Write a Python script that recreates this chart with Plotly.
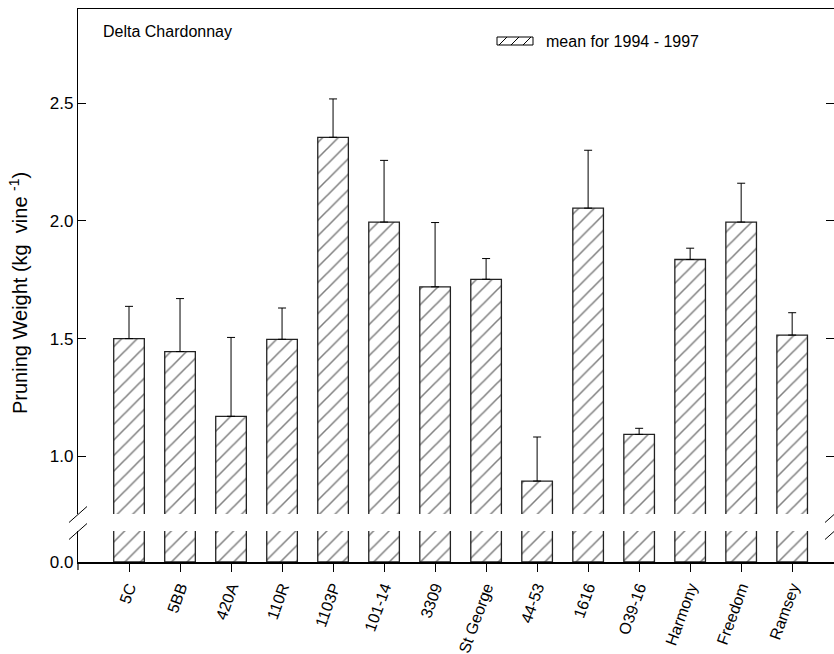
import plotly.graph_objects as go

# Rootstock trial data: mean pruning weight and upper error limit (kg vine^-1)
rootstocks = ["5C", "5BB", "420A", "110R", "1103P", "101-14", "3309", "St George",
              "44-53", "1616", "O39-16", "Harmony", "Freedom", "Ramsey"]
mean_weight = [1.50, 1.445, 1.17, 1.497, 2.355, 1.995, 1.72, 1.752,
               0.895, 2.054, 1.093, 1.836, 1.995, 1.515]
upper_limit = [1.637, 1.67, 1.505, 1.63, 2.518, 2.257, 1.993, 1.84,
               1.082, 2.30, 1.119, 1.884, 2.16, 1.61]
y_ticks_upper = [1.0, 1.5, 2.0, 2.5]
y_ticks_lower = [0.0]
legend_label = "mean for 1994 - 1997"
panel_label = "Delta Chardonnay"

err_plus = [u - m for u, m in zip(upper_limit, mean_weight)]

W, H = 834, 654
ML, MR, MT, MB = 78, 0, 9, 92
PW, PH = W - ML - MR, H - MT - MB

def px_x(p):
    return (p - ML) / PW

def px_y(p):
    return (H - MB - p) / PH

FONT = "Liberation Sans, Arial, sans-serif"
hatch = dict(shape="/", fgcolor="black", bgcolor="white", size=11, solidity=0.14)
bar_line = dict(color="#222222", width=1.3)

fig = go.Figure()

# lower segment of the broken axis
fig.add_trace(go.Bar(x=rootstocks, y=mean_weight, xaxis="x", yaxis="y",
                     width=0.6, marker=dict(color="white", line=bar_line, pattern=hatch),
                     showlegend=False, hoverinfo="skip"))
# upper segment with error bars
fig.add_trace(go.Bar(x=rootstocks, y=mean_weight, xaxis="x2", yaxis="y2",
                     width=0.6, marker=dict(color="white", line=bar_line, pattern=hatch),
                     error_y=dict(type="data", symmetric=False, array=err_plus,
                                  arrayminus=[0] * len(err_plus),
                                  color="black", thickness=1, width=4),
                     showlegend=False, name=legend_label))

lower_dom = [0, px_y(531)]
upper_dom = [px_y(514), 1]

axis_font = dict(family=FONT, size=17, color="black")

fig.update_layout(
    width=W, height=H,
    margin=dict(l=ML, r=MR, t=MT, b=MB),
    paper_bgcolor="white", plot_bgcolor="white",
    font=dict(family=FONT, color="black"),
    xaxis=dict(domain=[0, 1], anchor="y", type="category", range=[-1, 13.82],
               showline=True, linecolor="black", linewidth=1.8,
               ticks="outside", ticklen=8, tickcolor="black", tickwidth=1,
               tickangle=-70, tickfont=dict(family=FONT, size=16, color="black"),
               showgrid=False, zeroline=False),
    xaxis2=dict(domain=[0, 1], anchor="y2", type="category", range=[-1, 13.82],
                matches="x", side="top", showline=True, linecolor="black", linewidth=1,
                ticks="", showticklabels=False, showgrid=False, zeroline=False),
    yaxis=dict(domain=lower_dom, anchor="x", range=[0, 0.132],
               tickvals=y_ticks_lower, ticktext=["0.0"],
               showline=True, linecolor="black", linewidth=1.2, mirror="ticks",
               ticks="inside", ticklen=8, tickcolor="black", tickwidth=1,
               tickfont=axis_font, showgrid=False, zeroline=False),
    yaxis2=dict(domain=upper_dom, anchor="x2", range=[0.755, 2.9],
                tickvals=y_ticks_upper, ticktext=[f"{v:.1f}" for v in y_ticks_upper],
                showline=True, linecolor="black", linewidth=1.2, mirror="ticks",
                ticks="inside", ticklen=8, tickcolor="black", tickwidth=1,
                tickfont=axis_font, showgrid=False, zeroline=False),
)

shapes = []
# break marks on both vertical axes
for cx in (ML, W):
    for cy in (514.5, 531.5):
        shapes.append(dict(type="line", xref="paper", yref="paper",
                           x0=px_x(cx - 9), y0=px_y(cy + 8), x1=px_x(cx + 9), y1=px_y(cy - 8),
                           line=dict(color="black", width=1)))
# short axis extension below the origin
shapes.append(dict(type="line", xref="paper", yref="paper",
                   x0=0, y0=0, x1=0, y1=px_y(570), line=dict(color="black", width=1.2)))

# legend swatch
sx0, sx1, sy0, sy1 = 497, 533, 37, 45
shapes.append(dict(type="rect", xref="paper", yref="paper",
                   x0=px_x(sx0), x1=px_x(sx1), y0=px_y(sy1), y1=px_y(sy0),
                   line=dict(color="black", width=1), fillcolor="white"))
for hx in (499, 511, 523):
    shapes.append(dict(type="line", xref="paper", yref="paper",
                       x0=px_x(hx), y0=px_y(sy1), x1=px_x(hx + 8), y1=px_y(sy0),
                       line=dict(color="black", width=1)))
fig.update_layout(shapes=shapes)

annotations = [
    dict(text=legend_label, xref="paper", yref="paper", x=px_x(544), y=px_y(41),
         xanchor="left", yanchor="middle", showarrow=False,
         font=dict(family=FONT, size=16, color="black")),
    dict(text=panel_label, xref="paper", yref="paper", x=px_x(101), y=px_y(31),
         xanchor="left", yanchor="middle", showarrow=False,
         font=dict(family=FONT, size=16, color="black")),
    dict(text="Pruning Weight (kg  vine <sup>-1</sup>)", xref="paper", yref="paper",
         x=px_x(18), y=px_y(293), xanchor="center", yanchor="middle", textangle=-90,
         showarrow=False, font=dict(family=FONT, size=20, color="black")),
]
fig.update_layout(annotations=annotations)

fig.write_html("out.html")
